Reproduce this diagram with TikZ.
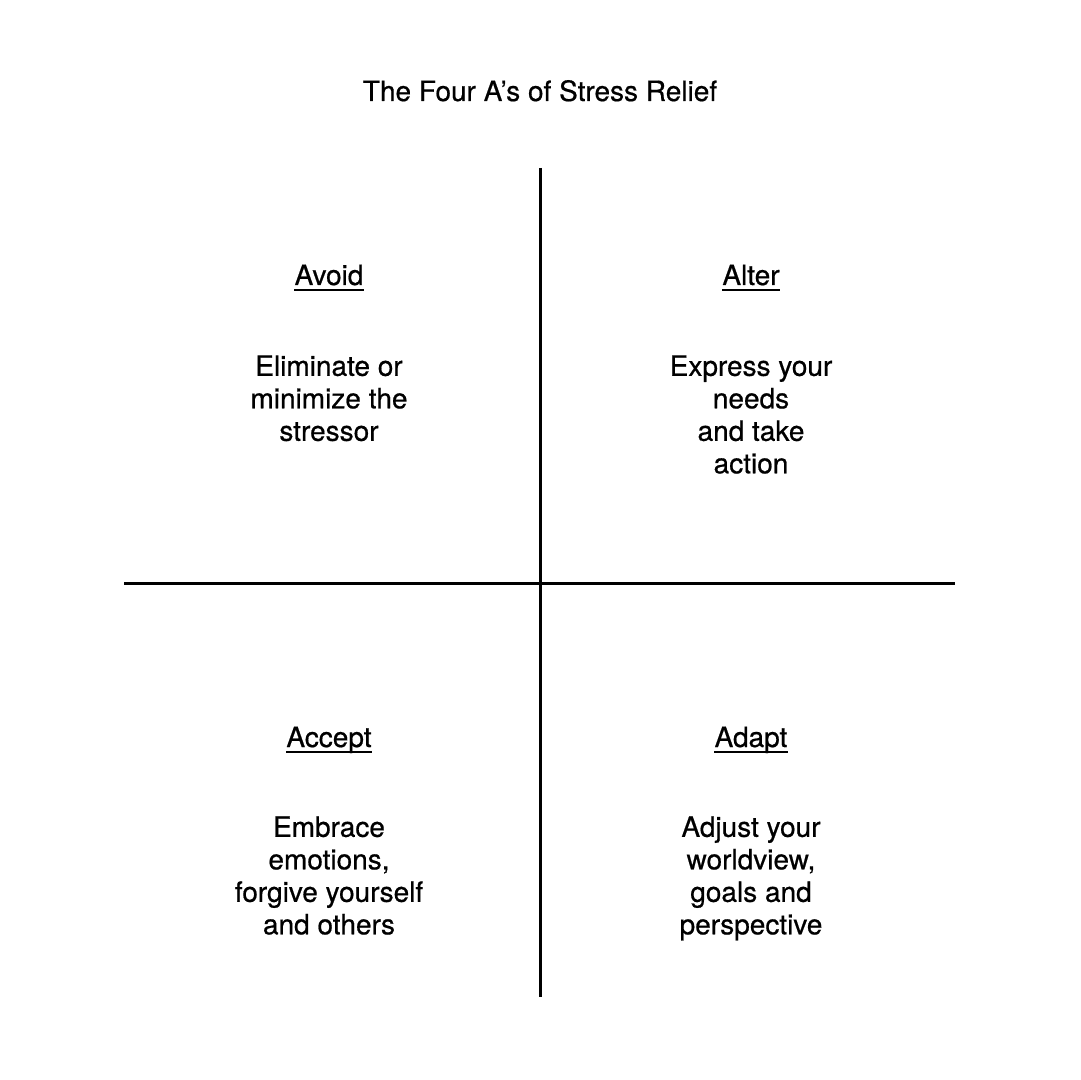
\documentclass[tikz,border=0pt]{standalone}
\usepackage{fontspec}
\setmainfont{TeX Gyre Heros}[FakeBold=0.6]
\begin{document}
\begin{tikzpicture}[x=0.5pt,y=-0.5pt,
  axis/.style={line width=1.5pt},
  txt/.style={inner sep=0pt, font=\fontsize{14pt}{16.25pt}\selectfont, align=center},
  head/.style={inner sep=0pt, anchor=base, font=\fontsize{14pt}{16.25pt}\selectfont},
  uline/.style={line width=0.9pt}]
\useasboundingbox[fill=white] (0,0) rectangle (1080,1080);
\node[head] (title) at (540,101) {The Four A’s of Stress Relief};
\coordinate (vt) at (540,168);
\coordinate (vb) at (540,997);
\coordinate (hl) at (124,583);
\coordinate (hr) at (955,583);
\draw[axis] (vt) -- (vb);
\draw[axis] (hl) -- (hr);
\node[head] (avoid) at (329,285) {Avoid};
\node[head] (alter) at (751,285) {Alter};
\node[head] (accept) at (329,747) {Accept};
\node[head] (adapt) at (751,747) {Adapt};
\foreach \n in {avoid,alter,accept,adapt}
  \draw[uline] ([yshift=-2.4pt]\n.base west) -- ([yshift=-2.4pt]\n.base east);
\node[txt,anchor=north] (b1) at (329,355) {Eliminate or\\minimize the\\stressor};
\node[txt,anchor=north] (b2) at (751,355) {Express your\\needs\\and take\\action};
\node[txt,anchor=north] (b3) at (329,816) {Embrace\\emotions,\\forgive yourself\\and others};
\node[txt,anchor=north] (b4) at (751,816) {Adjust your\\worldview,\\goals and\\perspective};
\end{tikzpicture}
\end{document}
